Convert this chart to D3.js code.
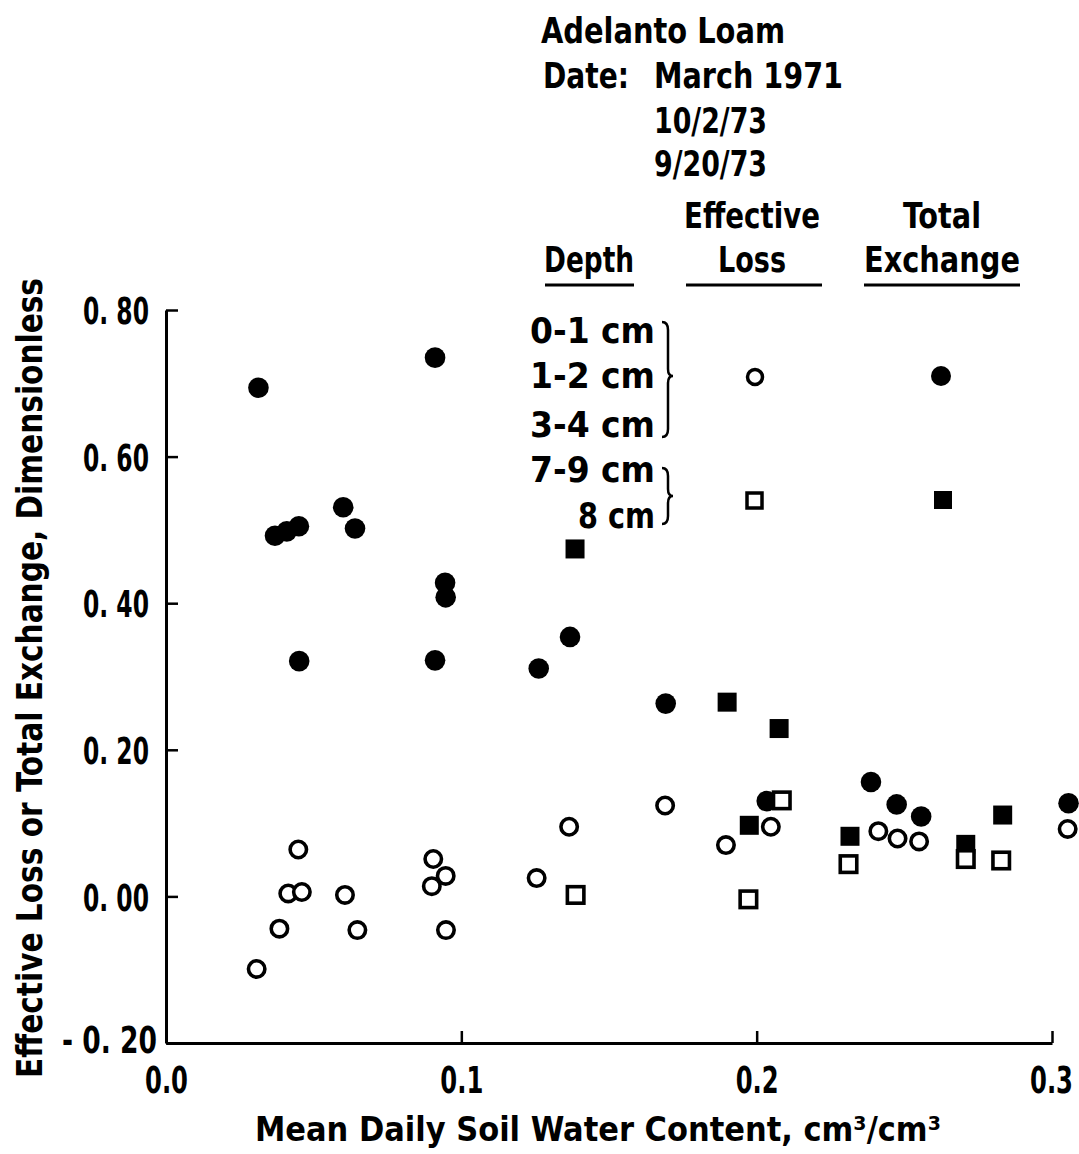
<!DOCTYPE html>
<html><head><meta charset="utf-8">
<script src="https://cdn.jsdelivr.net/npm/d3@7"></script>
<style>
body{margin:0;background:#fff;}
text{font-family:'Liberation Sans Narrow','DejaVu Sans Condensed','Arial Narrow',sans-serif;font-weight:bold;fill:#000;}
</style></head>
<body>
<svg id="chart" width="1079" height="1154"></svg>
<script>
// ---- data ----
const xTicks = [0, 0.1, 0.2, 0.3];
const xTickLabels = ["0.0", "0.1", "0.2", "0.3"];
const yTicks = [-0.2, 0, 0.2, 0.4, 0.6, 0.8];
const yTickLabels = ["- 0. 20", "0. 00", "0. 20", "0. 40", "0. 60", "0. 80"];

// Effective loss, 0-1 / 1-2 / 3-4 cm (open circles)
const effLossShallowX = [0.0307,0.0384,0.0414,0.046,0.0448,0.0606,0.0648,0.090,0.0905,0.0947,0.0948,0.1255,0.1365,0.169,0.1896,0.2048,0.2412,0.2477,0.255,0.3053];
const effLossShallowY = [-0.099,-0.044,0.004,0.006,0.064,0.002,-0.046,0.014,0.051,0.028,-0.046,0.025,0.095,0.124,0.070,0.095,0.089,0.079,0.075,0.092];
// Total exchange, 0-1 / 1-2 / 3-4 cm (filled circles)
const totExShallowX = [0.0313,0.0369,0.0409,0.045,0.0451,0.060,0.064,0.0911,0.0911,0.0945,0.0947,0.1262,0.1368,0.1692,0.2034,0.2387,0.2474,0.2557,0.3056];
const totExShallowY = [0.694,0.492,0.498,0.505,0.321,0.531,0.502,0.735,0.322,0.428,0.408,0.311,0.354,0.263,0.130,0.156,0.1255,0.109,0.127];
// Effective loss, 7-9 / 8 cm (open squares)
const effLossDeepX = [0.1387,0.1972,0.2085,0.2311,0.2708,0.2828];
const effLossDeepY = [0.002,-0.004,0.131,0.044,0.051,0.049];
// Total exchange, 7-9 / 8 cm (filled squares)
const totExDeepX = [0.1385,0.190,0.1975,0.2076,0.2316,0.2708,0.2833];
const totExDeepY = [0.474,0.265,0.097,0.229,0.082,0.071,0.111];

const titleLines = ["Adelanto Loam"];
const dateLabels = ["March 1971", "10/2/73", "9/20/73"];
const depthLabels = ["0-1 cm", "1-2 cm", "3-4 cm", "7-9 cm", "8 cm"];

// ---- layout ----
const svg = d3.select("#chart");
const mLeft = 166, mRight = 1052, mTop = 310, mBottom = 1043;
const x = d3.scaleLinear().domain([0, 0.3]).range([mLeft, mRight]);
const y = d3.scaleLinear().domain([-0.2, 0.8]).range([mBottom, mTop]);

// axes
const xAxis = d3.axisBottom(x).tickValues(xTicks).tickFormat((d,i)=>xTickLabels[i])
  .tickSizeInner(-12).tickSizeOuter(0).tickPadding(23);
const yAxis = d3.axisLeft(y).tickValues(yTicks).tickFormat((d,i)=>yTickLabels[i])
  .tickSizeInner(-12).tickSizeOuter(0).tickPadding(16);

const gx = svg.append("g").attr("transform", `translate(0,${mBottom})`).call(xAxis);
const gy = svg.append("g").attr("transform", `translate(${mLeft},0)`).call(yAxis);
[gx, gy].forEach(g => {
  g.select(".domain").attr("stroke", "#000").attr("stroke-width", 3);
  g.selectAll(".tick line").attr("stroke", "#000").attr("stroke-width", 2.5);
  g.selectAll(".tick text").attr("font-size", 38).attr("fill", "#000")
    .style("font-family", "'Liberation Sans Narrow','DejaVu Sans Condensed',sans-serif").style("font-weight", "bold")
    .attr("lengthAdjust", "spacingAndGlyphs");
});
gy.selectAll(".tick text").attr("dy", d => d < 0 ? "0.26em" : "0.36em")
  .attr("textLength", d => d < 0 ? 95 : 66)
  .attr("x", d => d < 0 ? -9 : -17);
gx.selectAll(".tick text").attr("textLength", 43);
gx.selectAll(".tick text").filter(d => d === 0.3).attr("x", -1);

// axis titles
svg.append("text").attr("x", 598).attr("y", 1141).attr("text-anchor", "middle")
  .attr("font-size", 34).attr("textLength", 686).attr("lengthAdjust", "spacingAndGlyphs")
  .text("Mean Daily Soil Water Content, cm³/cm³");
svg.append("text").attr("transform", "translate(42,678) rotate(-90)").attr("text-anchor", "middle")
  .attr("font-size", 36).attr("textLength", 800).attr("lengthAdjust", "spacingAndGlyphs")
  .text("Effective Loss or Total Exchange, Dimensionless");

// ---- legend / header text ----
const hdr = svg.append("g");
hdr.append("text").attr("x", 541).attr("y", 43).attr("font-size", 36).attr("textLength", 244).attr("lengthAdjust","spacingAndGlyphs").text(titleLines[0]);
hdr.append("text").attr("x", 543).attr("y", 88).attr("font-size", 36).attr("textLength", 86).attr("lengthAdjust","spacingAndGlyphs").text("Date:");
const dateY = [88, 133, 176], dateW = [189, 113, 113];
dateLabels.forEach((t,i)=>hdr.append("text").attr("x", 654).attr("y", dateY[i]).attr("font-size", 36)
  .attr("textLength", dateW[i]).attr("lengthAdjust","spacingAndGlyphs").text(t));
hdr.append("text").attr("x", 752).attr("y", 228).attr("text-anchor","middle").attr("font-size", 36).attr("textLength",136).attr("lengthAdjust","spacingAndGlyphs").text("Effective");
hdr.append("text").attr("x", 942).attr("y", 228).attr("text-anchor","middle").attr("font-size", 36).attr("textLength",78).attr("lengthAdjust","spacingAndGlyphs").text("Total");
hdr.append("text").attr("x", 589).attr("y", 272).attr("text-anchor","middle").attr("font-size", 36).attr("textLength",90).attr("lengthAdjust","spacingAndGlyphs").text("Depth");
hdr.append("text").attr("x", 752).attr("y", 272).attr("text-anchor","middle").attr("font-size", 36).attr("textLength",68).attr("lengthAdjust","spacingAndGlyphs").text("Loss");
hdr.append("text").attr("x", 942).attr("y", 272).attr("text-anchor","middle").attr("font-size", 36).attr("textLength",156).attr("lengthAdjust","spacingAndGlyphs").text("Exchange");
[[545,634],[686,822],[864,1020]].forEach(([a,b])=>hdr.append("line").attr("x1",a).attr("x2",b)
  .attr("y1",285).attr("y2",285).attr("stroke","#000").attr("stroke-width",3));

const depthY = [343, 388, 437, 482, 528], depthW = [125,125,125,125,77];
depthLabels.forEach((t,i)=>hdr.append("text").attr("x", 655).attr("y", depthY[i]).attr("text-anchor","end")
  .attr("font-size", 36).attr("textLength", depthW[i]).attr("lengthAdjust","spacingAndGlyphs").text(t));

function brace(x0, y0, y1, ym) {
  const w = 6;
  return `M${x0},${y0} Q${x0+w},${y0} ${x0+w},${y0+8} L${x0+w},${ym-7} Q${x0+w},${ym} ${x0+2*w-1},${ym} ` +
         `Q${x0+w},${ym} ${x0+w},${ym+7} L${x0+w},${y1-8} Q${x0+w},${y1} ${x0},${y1}`;
}
hdr.append("path").attr("d", brace(662, 322, 437, 376)).attr("fill","none").attr("stroke","#000").attr("stroke-width",2.5);
hdr.append("path").attr("d", brace(662, 468, 524, 496)).attr("fill","none").attr("stroke","#000").attr("stroke-width",2.5);

// legend symbols
hdr.append("circle").attr("cx", 755).attr("cy", 377).attr("r", 7.5).attr("fill","#fff").attr("stroke","#000").attr("stroke-width",3.5);
hdr.append("circle").attr("cx", 941).attr("cy", 376).attr("r", 10).attr("fill","#000");
hdr.append("rect").attr("x", 747).attr("y", 493).attr("width", 15).attr("height", 15).attr("fill","#fff").attr("stroke","#000").attr("stroke-width",3.5);
hdr.append("rect").attr("x", 934).attr("y", 491).attr("width", 18).attr("height", 18).attr("fill","#000");

// ---- data marks ----
const plot = svg.append("g");
const zip = (a,b)=>a.map((v,i)=>[v,b[i]]);
plot.selectAll(".fc").data(zip(totExShallowX, totExShallowY)).join("circle").attr("class","fc")
  .attr("cx", d=>x(d[0])).attr("cy", d=>y(d[1])).attr("r", 10.3).attr("fill","#000");
const sq = 19;
plot.selectAll(".fs").data(zip(totExDeepX, totExDeepY)).join("rect").attr("class","fs")
  .attr("x", d=>x(d[0])-sq/2).attr("y", d=>y(d[1])-sq/2).attr("width", sq).attr("height", sq).attr("fill","#000");
plot.selectAll(".oc").data(zip(effLossShallowX, effLossShallowY)).join("circle").attr("class","oc")
  .attr("cx", d=>x(d[0])).attr("cy", d=>y(d[1])).attr("r", 8.2).attr("fill","#fff").attr("stroke","#000").attr("stroke-width",3.6);
const osq = 16.5;
plot.selectAll(".os").data(zip(effLossDeepX, effLossDeepY)).join("rect").attr("class","os")
  .attr("x", d=>x(d[0])-osq/2).attr("y", d=>y(d[1])-osq/2).attr("width", osq).attr("height", osq)
  .attr("fill","#fff").attr("stroke","#000").attr("stroke-width",3.6);
</script>
</body></html>
